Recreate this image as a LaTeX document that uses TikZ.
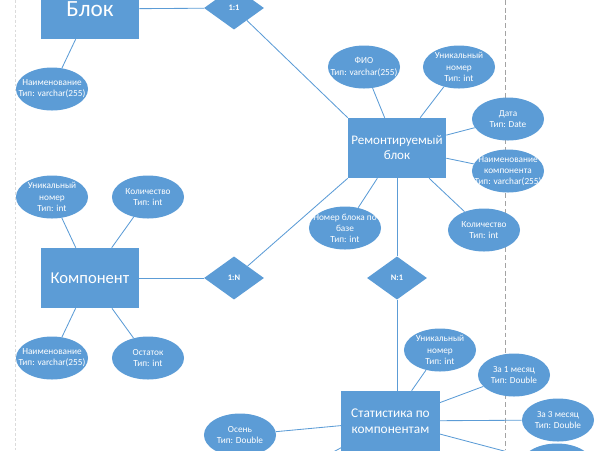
\documentclass[tikz,border=0pt]{standalone}
\usepackage{fontspec}
\setmainfont{Carlito}
\usepackage{tikz}
\usetikzlibrary{arrows.meta, positioning, shapes.geometric, calc}
\usepackage{xcolor}
\definecolor{officeblue}{rgb}{0.36, 0.61, 0.84}
\definecolor{guidegray}{rgb}{0.64, 0.64, 0.64}
\definecolor{guidelight}{rgb}{0.86, 0.86, 0.86}

\begin{document}
\begin{tikzpicture}[x=0.025cm, y=-0.025cm,
				entity/.style={fill=officeblue, text=white, draw=none, inner sep=0pt, minimum width=2.45cm, minimum height=1.5cm, align=center},
				attr/.style={ellipse, fill=officeblue, text=white, draw=none, inner sep=-3mm, minimum width=1.8cm, minimum height=1.075cm, align=center, font=\fontsize{6.6}{7.9}\selectfont},
				rel/.style={diamond, fill=officeblue, text=white, draw=none, inner sep=0pt, minimum width=1.5cm, minimum height=1.08cm, font=\bfseries\fontsize{6}{7}\selectfont},
				linkstyle/.style={officeblue, line width=0.6pt}
			]
			\useasboundingbox (0,0) rectangle (600,450);
			\clip (0,0) rectangle (600,450);

			% --- Page guides (behind everything) ---
			\draw[guidelight, line width=0.5pt, dash pattern=on 2pt off 1.5pt] (15.7,0) -- (15.7,450);
			\draw[guidegray, line width=0.6pt, dash pattern=on 3.5pt off 2pt] (505.7,0) -- (505.7,450);

			% --- Entities ---
			\node[entity, font=\fontsize{16.5}{19}\selectfont] (ent_blok) at (90,9) {Блок};
			\node[entity, font=\fontsize{9.3}{10.8}\selectfont] (ent_rem) at (397,148) {Ремонтируемый\\блок};
			\node[entity, font=\fontsize{11.8}{14}\selectfont] (ent_komp) at (90,278) {Компонент};
			\node[entity, font=\fontsize{9.5}{11.4}\selectfont] (ent_stat) at (390.5,421) {Статистика по\\компонентам};

			% --- Relations ---
			\node[rel] (rel_11) at (234,8) {1:1};
			\node[rel] (rel_1n) at (234,278) {1:N};
			\node[rel] (rel_n1) at (397,278) {N:1};

			% --- Attributes of Блок ---
			\node[attr] (b_name) at (52,89) {Наименование\\Тип: varchar(255)};

			% --- Attributes of Ремонтируемый блок ---
			\node[attr] (r_fio) at (364,67) {ФИО\\Тип: varchar(255)};
			\node[attr] (r_id) at (459,67) {Уникальный\\номер\\Тип: int};
			\node[attr] (r_date) at (508,119) {Дата\\Тип: Date};
			\node[attr] (r_cname) at (508,171) {Наименование\\компонента\\Тип: varchar(255)};
			\node[attr] (r_num) at (345,228) {Номер блока по\\базе\\Тип: int};
			\node[attr] (r_qty) at (484,230) {Количество\\Тип: int};

			% --- Attributes of Компонент ---
			\node[attr] (k_id) at (52,197) {Уникальный\\номер\\Тип: int};
			\node[attr] (k_qty) at (148,197) {Количество\\Тип: int};
			\node[attr] (k_name) at (52,358) {Наименование\\Тип: varchar(255)};
			\node[attr] (k_rest) at (148,358) {Остаток\\Тип: int};

			% --- Attributes of Статистика по компонентам ---
			\node[attr] (s_id) at (440,350) {Уникальный\\номер\\Тип: int};
			\node[attr] (s_m1) at (514,375) {За 1 месяц\\Тип: Double};
			\node[attr] (s_m3) at (558,420) {За 3 месяц\\Тип: Double};
			\node[attr] (s_autumn) at (240,435) {Осень\\Тип: Double};
			\node[attr] (s_more) at (557,465) {};
			\coordinate (s_low) at (300,470);

			% --- Connections ---
			\draw[linkstyle] (ent_blok) -- (rel_11);
			\draw[linkstyle] (rel_11) -- (ent_rem.north west);
			\draw[linkstyle] (ent_blok) -- (b_name);

			\draw[linkstyle] (ent_rem) -- (r_fio);
			\draw[linkstyle] (ent_rem) -- (r_id);
			\draw[linkstyle] (ent_rem) -- (r_date);
			\draw[linkstyle] (ent_rem) -- (r_cname);
			\draw[linkstyle] (ent_rem) -- (r_num);
			\draw[linkstyle] (ent_rem) -- (r_qty);
			\draw[linkstyle] (ent_rem.south west) -- (rel_1n);
			\draw[linkstyle] (ent_rem) -- (rel_n1);

			\draw[linkstyle] (ent_komp) -- (rel_1n);
			\draw[linkstyle] (ent_komp) -- (k_id);
			\draw[linkstyle] (ent_komp) -- (k_qty);
			\draw[linkstyle] (ent_komp) -- (k_name);
			\draw[linkstyle] (ent_komp) -- (k_rest);

			\draw[linkstyle] (rel_n1) -- (rel_n1 |- ent_stat.north);
			\draw[linkstyle] (ent_stat) -- (s_id);
			\draw[linkstyle] (ent_stat) -- (s_m1);
			\draw[linkstyle] (ent_stat) -- (s_m3);
			\draw[linkstyle] (ent_stat) -- (s_more);
			\draw[linkstyle] (ent_stat) -- (s_autumn);
			\draw[linkstyle] (ent_stat) -- (s_low);

		\end{tikzpicture}
\end{document}
